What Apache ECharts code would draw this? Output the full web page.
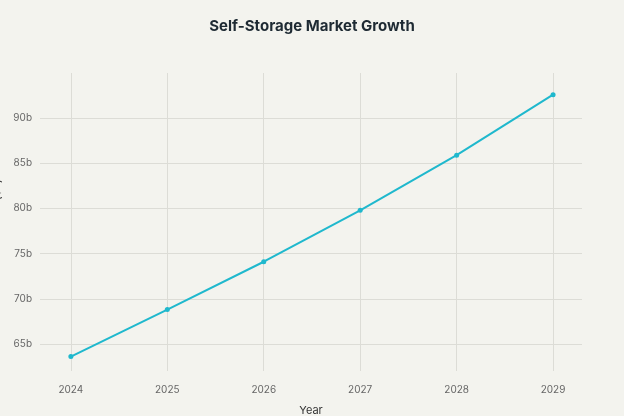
<!DOCTYPE html>
<html>
<head>
<meta charset="utf-8">
<script src="https://cdn.jsdelivr.net/npm/echarts@6/dist/echarts.min.js"></script>
<style>html,body{margin:0;background:#f3f3ee}#c{width:624px;height:416px}</style>
</head>
<body>
<div id="c"></div>
<script>
const years = [2024, 2025, 2026, 2027, 2028, 2029];
const marketSize = [63.6, 68.8, 74.1, 79.8, 85.9, 92.6];
const yTicks = [65, 70, 75, 80, 85, 90];

const chart = echarts.init(document.getElementById('c'));
chart.setOption({
	backgroundColor: '#f3f3ee',
	textStyle: {fontFamily: 'Inter'},
	title: {
		text: 'Self-Storage Market Growth',
		left: 'center',
		top: 14,
		textStyle: {fontSize: 15, fontWeight: 'bold', color: '#1e2a33'}
	},
	grid: {left: 40, right: 42, top: 73, bottom: 45, containLabel: false, outerBoundsMode: 'none'},
	xAxis: {
		type: 'value',
		min: 2023.68,
		max: 2029.3,
		name: 'Year',
		nameLocation: 'middle',
		nameGap: 34,
		nameTextStyle: {color: '#333', fontSize: 11},
		axisLine: {show: false},
		axisTick: {show: false, customValues: years},
		axisLabel: {customValues: years, color: '#666', fontSize: 10, margin: 14, formatter: v => String(v)},
		splitLine: {show: true, lineStyle: {color: '#dcdcd6'}}
	},
	yAxis: {
		type: 'value',
		min: 62,
		max: 95,
		name: 'Market Size ($b)',
		nameLocation: 'middle',
		nameGap: 30,
		nameTextStyle: {color: '#333', fontSize: 11},
		axisLine: {show: false},
		axisTick: {show: false, customValues: yTicks},
		axisLabel: {customValues: yTicks, color: '#666', fontSize: 10, formatter: v => v + 'b'},
		splitLine: {show: true, lineStyle: {color: '#dcdcd6'}}
	},
	series: [{
		type: 'line',
		data: years.map((y, i) => [y, marketSize[i]]),
		symbol: 'circle',
		symbolSize: 5,
		itemStyle: {color: '#1fb8cd'},
		lineStyle: {color: '#1fb8cd', width: 2}
	}]
});
</script>
</body>
</html>
